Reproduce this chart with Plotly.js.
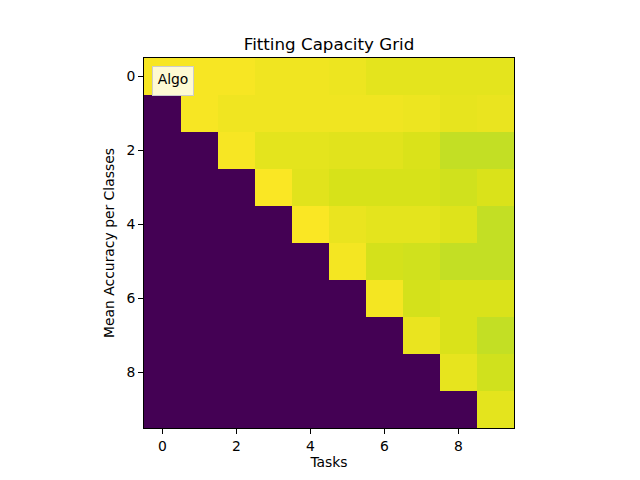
<!DOCTYPE html>
<html>
<head>
<meta charset="utf-8">
<script src="https://cdn.plot.ly/plotly-3.0.1.min.js"></script>
<style>html,body{margin:0;padding:0;background:#fff;}#chart{width:640px;height:480px;}</style>
</head>
<body>
<div id="chart"></div>
<script>
const tasks = [0,1,2,3,4,5,6,7,8,9];
const classes = [0,1,2,3,4,5,6,7,8,9];
const row0 = [0.99,0.99,0.99,0.98,0.98,0.975,0.96,0.96,0.96,0.96];
const row1 = [0,0.99,0.98,0.98,0.98,0.98,0.98,0.975,0.965,0.97];
const row2 = [0,0,0.99,0.96,0.96,0.955,0.955,0.945,0.91,0.91];
const row3 = [0,0,0,0.995,0.955,0.94,0.94,0.94,0.93,0.945];
const row4 = [0,0,0,0,0.995,0.97,0.96,0.96,0.95,0.91];
const row5 = [0,0,0,0,0,0.985,0.935,0.93,0.91,0.91];
const row6 = [0,0,0,0,0,0,0.985,0.935,0.945,0.945];
const row7 = [0,0,0,0,0,0,0,0.97,0.945,0.91];
const row8 = [0,0,0,0,0,0,0,0,0.965,0.93];
const row9 = [0,0,0,0,0,0,0,0,0,0.96];
const tickVals = [0,2,4,6,8];
const legendLabel = "Algo";

const z = [row0,row1,row2,row3,row4,row5,row6,row7,row8,row9];
const font = "DejaVu Sans, sans-serif";

const axisCommon = {
  showgrid:false, zeroline:false, showline:true, linecolor:"#000", linewidth:1, mirror:true,
  ticks:"outside", ticklen:5, tickwidth:1, tickcolor:"#000",
  tickvals:tickVals, ticktext:tickVals.map(String),
  tickfont:{family:font,size:13.9,color:"#000"}
};

Plotly.newPlot("chart", [{
  type:"heatmap", x:tasks, y:classes, z:z,
  colorscale:"Viridis", zmin:0, zmax:1, showscale:false, name:legendLabel
}], {
  width:640, height:480,
  margin:{l:144, r:126, t:58, b:52},
  paper_bgcolor:"#fff", plot_bgcolor:"#fff",
  title:{text:"Fitting Capacity Grid", font:{family:font,size:16.7,color:"#000"}, xref:"paper", x:0.5, xanchor:"center", yref:"container", y:1-44/480, yanchor:"middle"},
  xaxis:Object.assign({}, axisCommon, {range:[-0.5,9.5], title:{text:"Tasks", font:{family:font,size:13.9,color:"#000"}, standoff:4}}),
  yaxis:Object.assign({}, axisCommon, {range:[9.5,-0.5], title:{text:"Mean Accuracy per Classes", font:{family:font,size:13.9,color:"#000"}, standoff:8}}),
  annotations:[{
    text:legendLabel, xref:"paper", yref:"paper", x:8/370, y:1-8/370, xanchor:"left", yanchor:"top",
    showarrow:false, font:{family:font,size:13.9,color:"#000"},
    width:32, height:20, valign:"top",
    bgcolor:"rgba(255,255,255,0.8)", bordercolor:"#cccccc", borderwidth:1, borderpad:4
  }]
}, {displayModeBar:false});
</script>
</body>
</html>
